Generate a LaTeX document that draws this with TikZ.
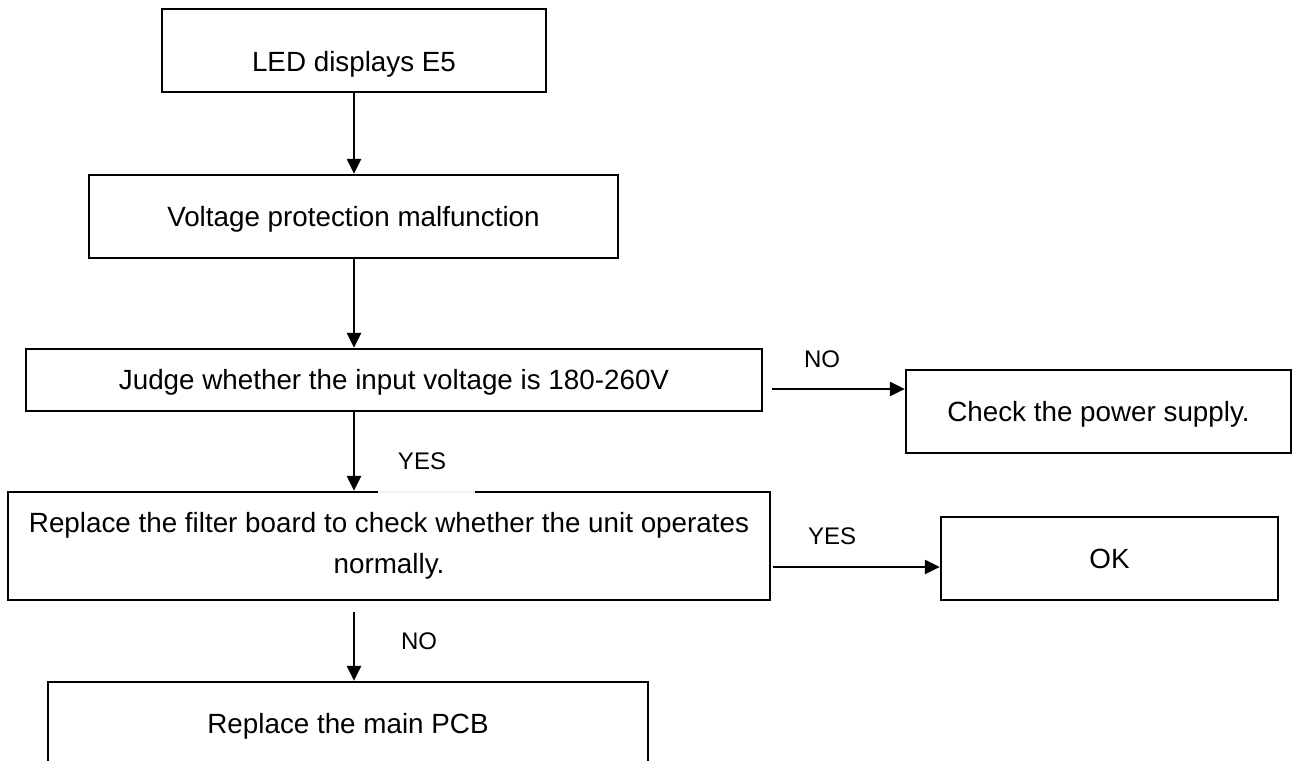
\documentclass[tikz,border=0pt]{standalone}
\usepackage{fontspec}
\setmainfont{Liberation Sans}
\usetikzlibrary{arrows.meta,calc}
\tikzset{
  box/.style={draw, line width=1.15pt, rectangle, inner sep=2pt, align=center,
    font=\fontsize{13.9pt}{20.5pt}\selectfont, text height=9.95pt, text depth=0pt},
  flow/.style={line width=1.15pt, -{Triangle[length=7.5pt,width=7pt]}},
  lbl/.style={font=\fontsize{12pt}{14pt}\selectfont, inner sep=0pt, text height=8.6pt, text depth=0pt}
}
\begin{document}
\begin{tikzpicture}[x=0.5pt,y=-0.5pt]
\useasboundingbox (0,0) rectangle (1293,760);
\clip (0,0) rectangle (1293,760);
\node[box, minimum width=192pt, minimum height=41.5pt, text height=21.45pt] (B1) at (354,50.5) {LED displays E5};
\node[box, minimum width=264.5pt, minimum height=41.5pt] (B2) at (353.5,216.5) {Voltage protection malfunction};
\node[box, minimum width=368pt, minimum height=31pt] (B3) at (394,380) {Judge whether the input voltage is 180-260V};
\node[box, minimum width=192.5pt, minimum height=41.5pt] (B4) at (1098.5,411.5) {Check the power supply.};
\node[box, minimum width=381pt, minimum height=54pt, text height={}, text depth={}] (B5) at (389,546) {Replace the filter board to check whether the unit operates\\normally.};
\node[box, minimum width=168.5pt, minimum height=41.5pt] (B6) at (1109.5,558.5) {OK};
\node[box, minimum width=300pt, minimum height=42pt] (B7) at (348,724) {Replace the main PCB};
\draw[gray!12, line width=1.3pt] (378,492) -- (475,492);
\draw[flow] (B1.south) -- (B1.south |- B2.north);
\draw[flow] (B1.south |- B2.south) -- (B1.south |- B3.north);
\draw[flow] (B1.south |- B3.south) -- (B1.south |- B5.north);
\draw[flow, shorten <=5.5pt] (B1.south |- B5.south) -- (B1.south |- B7.north);
\coordinate (n1) at ($(B3.east)+(9,9)$);
\draw[flow] (n1) -- (n1 -| B4.west);
\coordinate (y1) at ($(B5.east)+(2,21)$);
\draw[flow] (y1) -- (y1 -| B6.west);
\node[lbl] (L1) at (822,359) {NO};
\node[lbl] (L2) at (422,461) {YES};
\node[lbl] (L3) at (832,536) {YES};
\node[lbl] (L4) at (419,641) {NO};
\end{tikzpicture}
\end{document}
